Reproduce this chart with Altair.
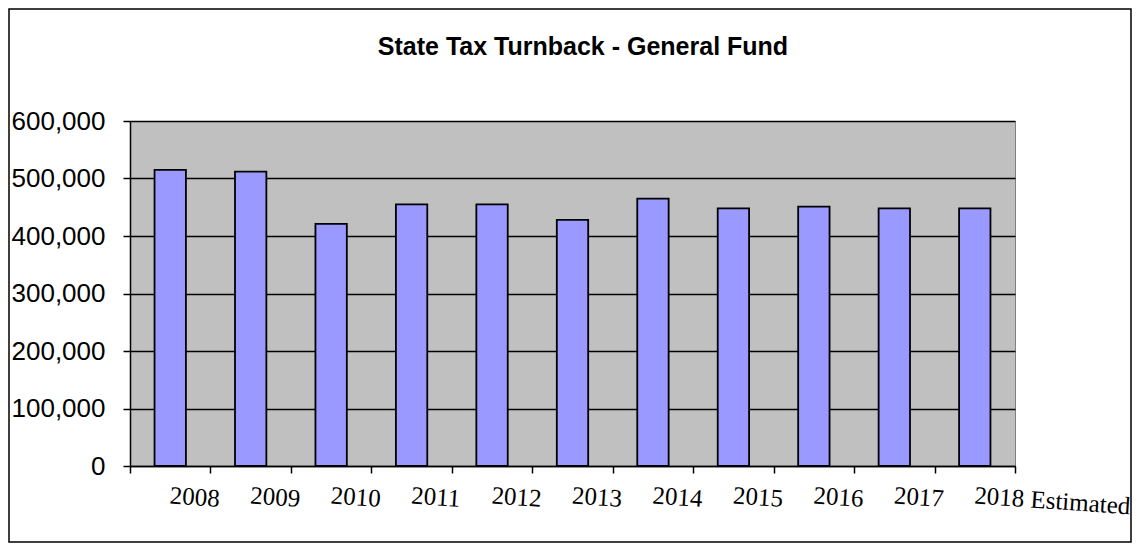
import altair as alt
import pandas as pd

years = ["2008", "2009", "2010", "2011", "2012", "2013", "2014", "2015", "2016", "2017", "2018 Estimated"]
values = [515000, 512000, 421000, 455000, 455000, 428000, 465000, 448000, 451000, 448000, 448000]
y_ticks = [0, 100000, 200000, 300000, 400000, 500000, 600000]
title_text = "State Tax Turnback - General Fund"

df = pd.DataFrame({"year": years, "value": values})

W, H = 885, 345
PADL, PADT, PADR, PADB = 122, 113, 117, 77

bars = alt.Chart(df).mark_bar(
    color="#9999FF", stroke="#000000", strokeWidth=1.8,
    width=alt.RelativeBandSize(0.39)
).encode(
    x=alt.X("year:N", sort=years, title=None,
            scale=alt.Scale(paddingInner=0, paddingOuter=0),
            axis=alt.Axis(domainColor="#000000", domainWidth=1.5,
                          tickColor="#000000", tickWidth=1.5, tickSize=7,
                          tickBand="extent", labelAlign="left", labelAngle=4,
                          labelBaseline="top", labelFont="Liberation Serif",
                          labelFontSize=25, labelPadding=10, labelColor="#000000",
                          labelOverlap=False, labelLimit=300, grid=False)),
    y=alt.Y("value:Q", title=None,
            scale=alt.Scale(domain=[0, 600000], nice=False),
            axis=alt.Axis(values=y_ticks, format=",.0f", domainColor="#000000",
                          domainWidth=1.5, tickColor="#000000", tickWidth=1.5,
                          tickSize=7, labelFont="Liberation Sans", labelFontSize=26,
                          labelPadding=18, labelColor="#000000", grid=True,
                          gridColor="#000000", gridWidth=1.5)),
)

border = alt.Chart(pd.DataFrame({"a": [0]})).mark_rect(
    fill=None, stroke="#000000", strokeWidth=1.5
).encode(
    x=alt.value(-PADL + 1), x2=alt.value(W + PADR - 1),
    y=alt.value(-PADT + 1), y2=alt.value(H + PADB - 1),
)

title = alt.Chart(pd.DataFrame({"t": [title_text]})).mark_text(
    font="Liberation Sans", fontSize=25, fontWeight="bold", color="#000000",
    align="center", baseline="alphabetic"
).encode(
    text="t:N", x=alt.value(453), y=alt.value(-66),
)

chart = alt.layer(border, bars, title).properties(
    width=W, height=H,
    autosize=alt.AutoSizeParams(type="none"),
    padding={"left": PADL, "top": PADT, "right": PADR, "bottom": PADB},
    background="#FFFFFF",
).configure_view(stroke="#808080", strokeWidth=1, fill="#C0C0C0")

chart.save("out.html", embed_options={"renderer": "svg", "actions": False})
